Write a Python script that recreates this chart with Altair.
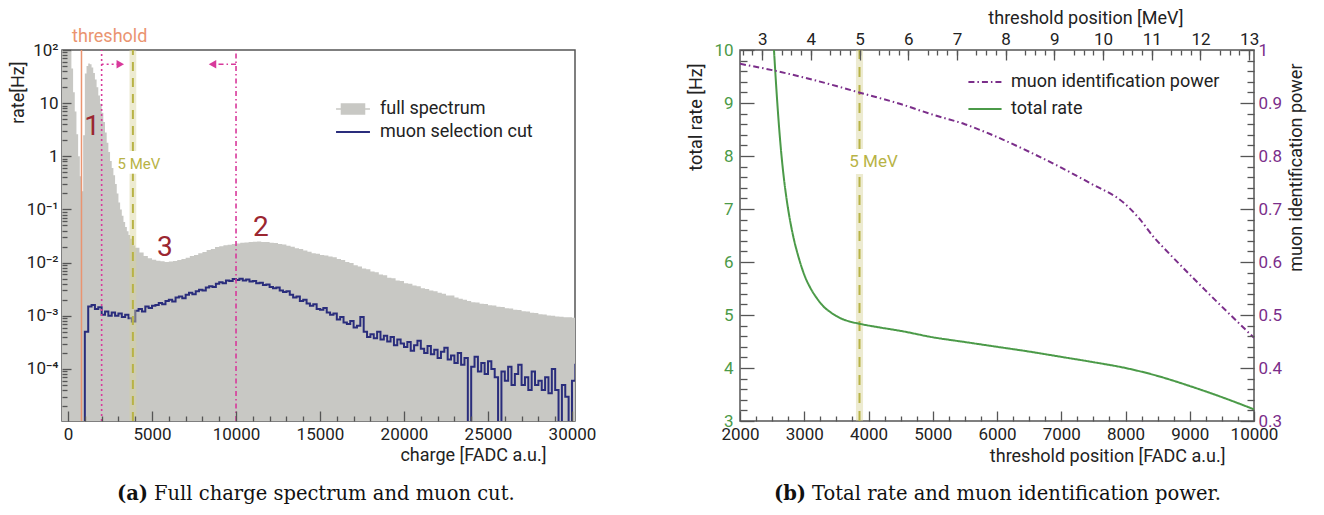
import altair as alt
import pandas as pd

# ---------------- panel (a): charge spectrum ----------------
full_charge = list(range(-400, 4001, 100)) + list(range(4250, 30501, 250))
full_rate = [
    300, 300, 300, 300, 250, 130, 45, 16, 7, 2.6, 1.0, 0.42, 0.22, 2.5, 36, 50, 56, 54, 47, 37,
    28, 20, 14, 9.8, 6.6, 4.4, 2.8, 1.8, 1.2, 0.82, 0.6, 0.44, 0.3, 0.2, 0.135, 0.1, 0.076, 0.058,
    0.047, 0.039, 0.033, 0.028, 0.024, 0.021, 0.019,
    0.0155, 0.0134, 0.0121, 0.0113, 0.0108, 0.0106, 0.0103, 0.0105,
    0.0107, 0.0112, 0.0117, 0.0124, 0.0133, 0.0139, 0.0151, 0.0158,
    0.0172, 0.0180, 0.0196, 0.0203, 0.0213, 0.0216, 0.0225, 0.0229,
    0.0237, 0.0239, 0.0245, 0.0246, 0.0249, 0.0245, 0.0244, 0.0237,
    0.0233, 0.0224, 0.0219, 0.0207, 0.0199, 0.0187, 0.0180, 0.0169,
    0.0161, 0.0150, 0.0147, 0.0140, 0.0137, 0.0130, 0.0126, 0.0117,
    0.0112, 0.0103, 0.0098, 0.0089, 0.0085, 0.0078, 0.0075, 0.0068,
    0.0066, 0.0060, 0.0058, 0.0052, 0.0051, 0.0046, 0.0045, 0.0041,
    0.0040, 0.0037, 0.0036, 0.0033, 0.0032, 0.0030, 0.0029, 0.0027,
    0.0026, 0.0024, 0.0024, 0.0022, 0.0021, 0.0020, 0.0019, 0.0018,
    0.00178, 0.00168, 0.00166, 0.00158, 0.00156, 0.00148, 0.00146, 0.00139,
    0.00137, 0.00130, 0.00129, 0.00122, 0.00120, 0.00114, 0.00113, 0.00107,
    0.00106, 0.00101, 0.00100, 0.00097, 0.00096, 0.00094, 0.00094, 0.00092,
    0.00092, 0.00091,
]
cut_charge = list(range(800, 30401, 200))
cut_rate = [
    1e-7, 5.0e-4, 1.5e-3, 1.6e-3, 1.35e-3, 1.45e-3, 1.05e-3, 1.2e-3, 1.0e-3, 1.15e-3,
    1.0e-3, 1.1e-3, 0.95e-3, 1.05e-3, 0.9e-3, 0.78e-3, 1.25e-3, 1.35e-3, 1.2e-3, 1.5e-3,
    1.4e-3, 1.55e-3, 1.6e-3, 1.75e-3, 1.65e-3, 1.9e-3, 2.0e-3, 1.85e-3, 2.2e-3, 2.3e-3,
    2.15e-3, 2.5e-3, 2.7e-3, 2.55e-3, 2.9e-3, 3.1e-3, 3.0e-3, 3.4e-3, 3.6e-3, 3.5e-3,
    4.0e-3, 4.3e-3, 4.1e-3, 4.6e-3, 4.5e-3, 4.9e-3, 4.7e-3, 5.0e-3, 4.6e-3, 4.8e-3,
    4.4e-3, 4.5e-3, 4.1e-3, 4.2e-3, 3.8e-3, 3.9e-3, 3.5e-3, 3.3e-3, 3.4e-3, 3.0e-3,
    2.8e-3, 2.9e-3, 2.5e-3, 2.2e-3, 2.3e-3, 1.9e-3, 2.0e-3, 1.7e-3, 1.55e-3, 1.65e-3,
    1.35e-3, 1.3e-3, 1.4e-3, 1.15e-3, 1.05e-3, 1.1e-3, 0.85e-3, 0.95e-3, 0.75e-3, 0.7e-3,
    0.8e-3, 0.6e-3, 0.65e-3, 0.95e-3, 0.5e-3, 0.4e-3, 0.45e-3, 0.38e-3, 0.5e-3, 0.36e-3,
    0.42e-3, 0.33e-3, 0.4e-3, 0.28e-3, 0.36e-3, 0.3e-3, 0.26e-3, 0.32e-3, 0.22e-3, 0.28e-3,
    0.34e-3, 0.24e-3, 0.2e-3, 0.27e-3, 0.19e-3, 0.23e-3, 0.16e-3, 0.21e-3, 0.25e-3, 0.15e-3,
    0.18e-3, 0.13e-3, 0.2e-3, 0.12e-3, 0.16e-3, 1e-7, 0.11e-3, 0.17e-3, 0.09e-3, 0.13e-3,
    0.08e-3, 0.14e-3, 0.1e-3, 0.07e-3, 1e-7, 0.09e-3, 0.06e-3, 0.11e-3, 0.05e-3, 0.08e-3,
    0.12e-3, 0.05e-3, 0.07e-3, 0.04e-3, 0.09e-3, 0.05e-3, 0.06e-3, 0.04e-3, 0.07e-3, 0.035e-3,
    0.1e-3, 0.04e-3, 1e-7, 0.05e-3, 0.03e-3, 1e-7, 0.06e-3, 0.12e-3, 0.12e-3,
]
threshold_charge = 800
cut_low, cut_high = 2000, 10000
mev5_charge = 3860

# ---------------- panel (b): rate and identification power ----------------
rate_fadc = [2500, 2529, 2560, 2590, 2630, 2670, 2710, 2750, 2800, 2850, 2900, 3000, 3100,
             3200, 3300, 3400, 3500, 3600, 3700, 3880, 4200, 4500, 5000, 5500, 6000, 6500,
             7000, 7500, 8000, 8500, 9000, 9500, 10000]
rate_hz = [10.6, 10.0, 9.38, 8.84, 8.22, 7.72, 7.32, 6.99, 6.65, 6.37, 6.14, 5.76, 5.50,
           5.31, 5.16, 5.06, 4.98, 4.92, 4.88, 4.83, 4.76, 4.70, 4.58, 4.49, 4.40, 4.31,
           4.21, 4.11, 4.00, 3.85, 3.66, 3.45, 3.22]
power_fadc = [2000, 2500, 3000, 3500, 3880, 4500, 5000, 5500, 5900, 6500, 7000, 7460,
              7980, 8200, 8460, 8600, 9240, 10000]
power_val = [0.974, 0.962, 0.948, 0.932, 0.919, 0.898, 0.878, 0.860, 0.841, 0.808, 0.778,
             0.748, 0.711, 0.684, 0.644, 0.626, 0.547, 0.457]

# ---------------- styling ----------------
GRAY = "#c8c8c4"
NAVY = "#2a2d7c"
ORANGE = "#ea9470"
MAGENTA = "#d8399b"
OLIVE = "#b8b346"
BAND = "#d6d29a"
DRED = "#9b2630"
GREEN = "#4b9a48"
PURPLE = "#7b2e8a"
TICK = "#555555"
FONT = "Roboto"

W1, H1 = 513, 371
W2, H2 = 514, 371

A_X = [-360, 30180]
A_Y = [1.05e-5, 100]
B_X = [2000, 10000]
B_Y = [3, 10]
B_P = [0.3, 1.0]
B_MEV = [2.545, 13.10]

# tick positions
a_x_major = list(range(0, 30001, 5000))
a_x_minor = [v for v in range(0, 30001, 1000) if v % 5000 != 0]
a_y_major = [10.0 ** e for e in range(-4, 3)]
a_y_minor = [m * 10.0 ** e for e in range(-5, 2) for m in range(2, 10)
             if A_Y[0] <= m * 10.0 ** e <= A_Y[1]]
b_x_major = list(range(2000, 10001, 1000))
b_x_minor = [v for v in range(2000, 10001, 250) if v % 1000 != 0]
b_y_major = list(range(3, 11))
b_y_minor = [round(3 + 0.2 * i, 1) for i in range(36) if i % 5 != 0]
b_p_major = [round(0.3 + 0.1 * i, 1) for i in range(8)]
b_p_minor = [round(0.3 + 0.02 * i, 2) for i in range(36) if i % 5 != 0]
b_mev_major = list(range(3, 14))
b_mev_minor = [round(2.6 + 0.2 * i, 1) for i in range(53) if (i + 2) % 5 != 0]

log_label = ("datum.value > 50 ? '10²' : datum.value > 5 ? '10' : "
             "datum.value > 0.5 ? '1' : datum.value > 0.05 ? '10⁻¹' : datum.value > 0.005 ? '10⁻²' : "
             "datum.value > 0.0005 ? '10⁻³' : '10⁻⁴'")


def minor_axis(orient, values, size):
    return alt.Axis(orient=orient, values=values, tickSize=size, offset=-size, labels=False,
                    domain=False, title=None, ticks=True, zindex=1)


# ---------------- panel (a) encodings ----------------
XA = alt.X("x:Q", scale=alt.Scale(domain=A_X, nice=False, zero=False),
           axis=alt.Axis(orient="bottom", values=a_x_major, title="charge [FADC a.u.]", format="d",
                         tickSize=10, offset=-10, labelPadding=5, domain=False, ticks=True,
                         titleAlign="right", titleX=484, titleY=44, titleBaseline="middle",
                         zindex=1))
YA = alt.Y("y:Q", scale=alt.Scale(type="log", domain=A_Y, nice=False),
           axis=alt.Axis(orient="left", values=a_y_major, title="rate[Hz]", labelExpr=log_label,
                         tickSize=9, offset=-9, labelPadding=4, domain=False, ticks=True,
                         titleAngle=270, titleAlign="right", titleX=-53, titleY=11,
                         titleBaseline="middle", zindex=1))

df_full = pd.DataFrame({"x": full_charge, "y": full_rate, "base": A_Y[0], "series": "full spectrum"})
df_cut = pd.DataFrame({"x": cut_charge, "y": cut_rate, "series": "muon selection cut"})

area = alt.Chart(df_full).mark_area(interpolate="step-after", clip=True).encode(
    x=XA, y=YA, y2=alt.Y2("base:Q"),
    fill=alt.Fill("series:N", scale=alt.Scale(domain=["full spectrum"], range=[GRAY]),
                  legend=alt.Legend(title=None, orient="none", legendX=273, legendY=41,
                                    symbolType="M-1,0H1M-0.68,-0.3H0.68V0.3H-0.68Z",
                                    symbolSize=1150, symbolStrokeColor=GRAY,
                                    symbolStrokeWidth=1.5, symbolOpacity=1,
                                    labelFontSize=18, labelOffset=9, labelFont=FONT,
                                    labelLimit=0)))

cut_line = alt.Chart(df_cut).mark_line(interpolate="step-after", clip=True, strokeWidth=2).encode(
    x=XA, y=YA,
    stroke=alt.Stroke("series:N", scale=alt.Scale(domain=["muon selection cut"], range=[NAVY]),
                      legend=alt.Legend(title=None, orient="none", legendX=273, legendY=64,
                                        symbolType="stroke", symbolSize=1150,
                                        symbolStrokeWidth=2, labelFontSize=18,
                                        labelOffset=9, labelFont=FONT, labelLimit=0)))

df_band_a = pd.DataFrame({"x": [mev5_charge - 200] * 2, "x2": [mev5_charge + 200] * 2,
                          "y": [A_Y[0], 1.26], "y2": [0.47, A_Y[1]]})
band_a = alt.Chart(df_band_a).mark_rect(color=BAND, opacity=0.45).encode(
    x=XA, x2="x2:Q", y=YA, y2="y2:Q")
df_mev_a = pd.DataFrame({"x": [mev5_charge] * 2, "y": [A_Y[0], 1.26], "y2": [0.47, A_Y[1]]})
dash_a = alt.Chart(df_mev_a).mark_rule(color=OLIVE, strokeWidth=2, strokeDash=[9, 7]).encode(
    x=XA, y=YA, y2="y2:Q")

df_thr = pd.DataFrame({"x": [threshold_charge], "y": [A_Y[0]], "y2": [A_Y[1]]})
thr = alt.Chart(df_thr).mark_rule(color=ORANGE, strokeWidth=1.5).encode(x=XA, y=YA, y2="y2:Q")

df_low = pd.DataFrame({"x": [cut_low], "y": [A_Y[0]], "y2": [A_Y[1]]})
low_rule = alt.Chart(df_low).mark_rule(color=MAGENTA, strokeWidth=1.6, strokeDash=[2, 3]).encode(
    x=XA, y=YA, y2="y2:Q")
df_high = pd.DataFrame({"x": [cut_high], "y": [A_Y[0]], "y2": [A_Y[1]]})
high_rule = alt.Chart(df_high).mark_rule(color=MAGENTA, strokeWidth=1.6, strokeDash=[5, 3, 1.5, 3]).encode(
    x=XA, y=YA, y2="y2:Q")

arrow_y = 54
df_arr_low = pd.DataFrame({"x": [cut_low], "x2": [2950], "y": [arrow_y]})
arr_low = alt.Chart(df_arr_low).mark_rule(color=MAGENTA, strokeWidth=1.6, strokeDash=[2, 3]).encode(
    x=XA, x2="x2:Q", y=YA)
df_arr_high = pd.DataFrame({"x": [cut_high], "x2": [8800], "y": [arrow_y]})
arr_high = alt.Chart(df_arr_high).mark_rule(color=MAGENTA, strokeWidth=1.6, strokeDash=[5, 3, 1.5, 3]).encode(
    x=XA, x2="x2:Q", y=YA)
df_tri_r = pd.DataFrame({"x": [3110], "y": [arrow_y]})
tri_r = alt.Chart(df_tri_r).mark_point(shape="triangle-right", filled=True, size=75, color=MAGENTA,
                                        opacity=1).encode(x=XA, y=YA)
df_tri_l = pd.DataFrame({"x": [8600], "y": [arrow_y]})
tri_l = alt.Chart(df_tri_l).mark_point(shape="triangle-left", filled=True, size=75, color=MAGENTA,
                                        opacity=1).encode(x=XA, y=YA)

df_thr_txt = pd.DataFrame({"x": [240], "y": [175], "t": ["threshold"]})
thr_txt = alt.Chart(df_thr_txt).mark_text(color=ORANGE, fontSize=18, font=FONT, align="left",
                                          baseline="middle").encode(x=XA, y=YA, text="t:N")
df_mev_txt_a = pd.DataFrame({"x": [mev5_charge], "y": [0.72], "t": ["5 MeV"]})
mev_txt_a = alt.Chart(df_mev_txt_a).mark_text(color=OLIVE, fontSize=15, font=FONT, align="center",
                                              baseline="middle", dx=6).encode(x=XA, y=YA, text="t:N")
df_nums = pd.DataFrame({"x": [1430, 11480, 5770], "y": [3.6, 0.045, 0.019], "t": ["1", "2", "3"]})
nums = alt.Chart(df_nums).mark_text(color=DRED, fontSize=28, font=FONT, align="center",
                                    baseline="middle").encode(x=XA, y=YA, text="t:N")

cap_a1 = alt.Chart(pd.DataFrame({"t": ["(a)"]})).mark_text(
    font="DejaVu Serif", fontSize=19.5, fontWeight="bold", align="right", baseline="middle",
    color="#111").encode(x=alt.value(86), y=alt.value(444), text="t:N")
cap_a2 = alt.Chart(pd.DataFrame({"t": ["Full charge spectrum and muon cut."]})).mark_text(
    font="DejaVu Serif", fontSize=19.5, align="left", baseline="middle",
    color="#111").encode(x=alt.value(92), y=alt.value(444), text="t:N")

main_a = alt.layer(area, cut_line, band_a, dash_a, thr, low_rule, high_rule, arr_low, arr_high,
                   tri_r, tri_l, thr_txt, mev_txt_a, nums, cap_a1, cap_a2)

minor_a = alt.Chart(pd.DataFrame({"x": [15000], "y": [1.0]})).mark_point(opacity=0).encode(
    x=alt.X("x:Q", scale=alt.Scale(domain=A_X, nice=False, zero=False),
            axis=minor_axis("bottom", a_x_minor, 5)),
    y=alt.Y("y:Q", scale=alt.Scale(type="log", domain=A_Y, nice=False),
            axis=minor_axis("left", a_y_minor, 5)))

left = alt.layer(main_a, minor_a).resolve_scale(x="independent", y="independent").properties(
    width=W1, height=H1)

# ---------------- panel (b) encodings ----------------
XB = alt.X("x:Q", scale=alt.Scale(domain=B_X, nice=False, zero=False),
           axis=alt.Axis(orient="bottom", values=b_x_major, title="threshold position [FADC a.u.]",
                         format="d", tickSize=10, offset=-10, labelPadding=5, domain=False,
                         ticks=True, titleAlign="right", titleX=485, titleY=45,
                         titleBaseline="middle", zindex=1))
YB = alt.Y("y:Q", scale=alt.Scale(domain=B_Y, nice=False, zero=False),
           axis=alt.Axis(orient="left", values=b_y_major, title="total rate [Hz]", format="d",
                         tickSize=14, offset=-14, labelPadding=7, domain=False, ticks=True,
                         labelColor=GREEN, titleAngle=270, titleAlign="right",
                         titleX=-58, titleY=13, titleBaseline="middle", zindex=1))

df_rate = pd.DataFrame({"x": rate_fadc, "y": rate_hz, "series": "total rate"})
df_power = pd.DataFrame({"x": power_fadc, "y": power_val, "series": "muon identification power"})

series_dom = ["muon identification power", "total rate"]
leg_b = alt.Legend(title=None, orient="none", legendX=227, legendY=14, symbolType="stroke",
                   symbolSize=1100, symbolStrokeWidth=2, labelFontSize=18, labelOffset=8,
                   rowPadding=-9, labelFont=FONT, labelLimit=0)
COLOR_B = alt.Color("series:N", scale=alt.Scale(domain=series_dom, range=[PURPLE, GREEN]), legend=leg_b)
DASH_B = alt.StrokeDash("series:N", scale=alt.Scale(domain=series_dom, range=[[6, 3, 1.5, 3], [1, 0]]),
                        legend=leg_b)

df_band_b = pd.DataFrame({"x": [mev5_charge - 55] * 2, "x2": [mev5_charge + 55] * 2,
                          "y": [B_Y[0], 8.13], "y2": [7.66, B_Y[1]]})
band_b = alt.Chart(df_band_b).mark_rect(color=BAND, opacity=0.45).encode(
    x=XB, x2="x2:Q", y=YB, y2="y2:Q")
df_mev_b = pd.DataFrame({"x": [mev5_charge] * 2, "y": [B_Y[0], 8.13], "y2": [7.66, B_Y[1]]})
dash_b = alt.Chart(df_mev_b).mark_rule(color=OLIVE, strokeWidth=2, strokeDash=[10, 8]).encode(
    x=XB, y=YB, y2="y2:Q")
df_mev_txt_b = pd.DataFrame({"x": [mev5_charge], "y": [7.88], "t": ["5 MeV"]})
mev_txt_b = alt.Chart(df_mev_txt_b).mark_text(color=OLIVE, fontSize=17, font=FONT, align="center",
                                              baseline="middle", dx=14).encode(x=XB, y=YB, text="t:N")
rate_line = alt.Chart(df_rate).mark_line(interpolate="monotone", clip=True, strokeWidth=2).encode(
    x=XB, y=YB, color=COLOR_B, strokeDash=DASH_B)

cap_b1 = alt.Chart(pd.DataFrame({"t": ["(b)"]})).mark_text(
    font="DejaVu Serif", fontSize=19.5, fontWeight="bold", align="right", baseline="middle",
    color="#111").encode(x=alt.value(66), y=alt.value(444), text="t:N")
cap_b2 = alt.Chart(pd.DataFrame({"t": ["Total rate and muon identification power."]})).mark_text(
    font="DejaVu Serif", fontSize=19.5, align="left", baseline="middle",
    color="#111").encode(x=alt.value(72), y=alt.value(444), text="t:N")

rate_layer = alt.layer(band_b, dash_b, mev_txt_b, rate_line, cap_b1, cap_b2)

power_line = alt.Chart(df_power).mark_line(interpolate="monotone", clip=True, strokeWidth=2).encode(
    x=alt.X("x:Q", scale=alt.Scale(domain=B_X, nice=False, zero=False), axis=None),
    y=alt.Y("y:Q", scale=alt.Scale(domain=B_P, nice=False, zero=False),
            axis=alt.Axis(orient="right", values=b_p_major, title="muon identification power",
                          format=".1~f", tickSize=14, offset=-14, labelPadding=4, domain=False,
                          ticks=True, labelColor=PURPLE, titleAngle=270, titleAlign="right",
                          titleX=56, titleY=13, titleBaseline="middle", zindex=1)),
    color=COLOR_B, strokeDash=DASH_B)

mev_axis = alt.Chart(pd.DataFrame({"mev": [3, 13]})).mark_point(opacity=0).encode(
    x=alt.X("mev:Q", scale=alt.Scale(domain=B_MEV, nice=False, zero=False),
            axis=alt.Axis(orient="top", values=b_mev_major, title="threshold position [MeV]",
                          format="d", tickSize=10, offset=-10, labelPadding=2, domain=False,
                          ticks=True, titleAlign="right", titleX=443, titleY=-42,
                          titleBaseline="middle", zindex=1)))

minor_b1 = alt.Chart(pd.DataFrame({"x": [6000], "y": [6.0]})).mark_point(opacity=0).encode(
    x=alt.X("x:Q", scale=alt.Scale(domain=B_X, nice=False, zero=False),
            axis=minor_axis("bottom", b_x_minor, 5)),
    y=alt.Y("y:Q", scale=alt.Scale(domain=B_Y, nice=False, zero=False),
            axis=minor_axis("left", b_y_minor, 7)))
minor_b2 = alt.Chart(pd.DataFrame({"x": [8.0], "y": [0.6]})).mark_point(opacity=0).encode(
    x=alt.X("x:Q", scale=alt.Scale(domain=B_MEV, nice=False, zero=False),
            axis=minor_axis("top", b_mev_minor, 5)),
    y=alt.Y("y:Q", scale=alt.Scale(domain=B_P, nice=False, zero=False),
            axis=minor_axis("right", b_p_minor, 7)))

right = alt.layer(rate_layer, power_line, mev_axis, minor_b1, minor_b2).resolve_scale(
    x="independent", y="independent").properties(width=W2, height=H2)

chart = alt.hconcat(left, right, spacing=165, bounds="flush").resolve_scale(
    color="independent", strokeDash="independent", fill="independent", stroke="independent"
).properties(
    padding={"left": 0, "top": 0, "right": 5, "bottom": 5}
).configure_axis(
    labelFont=FONT, titleFont=FONT, titleFontWeight="normal", labelFontSize=17, titleFontSize=18,
    tickColor=TICK, tickWidth=1.3, tickOpacity=1,
    labelColor="#222", titleColor="#222", labelFlush=False, labelOverlap=False, grid=False
).configure_view(stroke=TICK, strokeWidth=1.5).configure_legend(labelColor="#222")

chart.save("out.html", embed_options={"renderer": "svg", "actions": False})
